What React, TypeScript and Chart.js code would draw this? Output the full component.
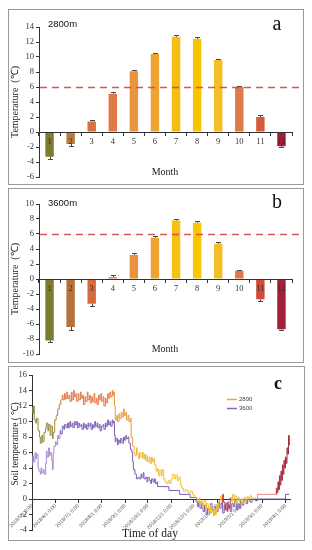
import React, { useEffect, useRef } from "react";
import { Chart, registerables } from "chart.js";

Chart.register(...registerables);

// ---------- data ----------
const MONTHS = ["1", "2", "3", "4", "5", "6", "7", "8", "9", "10", "11", "12"];

const TEMP_2800 = [-3.3, -1.6, 1.4, 5.1, 8.1, 10.4, 12.7, 12.4, 9.6, 6.0, 2.0, -1.9];
const ERR_2800 = [0.25, 0.3, 0.25, 0.3, 0.15, 0.15, 0.2, 0.3, 0.2, 0.1, 0.25, 0.15];

const TEMP_3600 = [-8.2, -6.4, -3.3, 0.25, 3.2, 5.5, 7.8, 7.5, 4.7, 1.1, -2.7, -6.7];
const ERR_3600 = [0.25, 0.35, 0.3, 0.3, 0.25, 0.2, 0.15, 0.25, 0.25, 0.15, 0.25, 0.1];

const THRESHOLD = 6;

const TICK_DAYS = [0, 31, 61, 92, 123, 153, 184, 214, 245, 276, 304, 335];
const TICK_LABELS = [
  "2018/5/1 0:00", "2018/6/1 0:00", "2018/7/1 0:00", "2018/8/1 0:00",
  "2018/9/1 0:00", "2018/10/1 0:00", "2018/11/1 0:00", "2018/12/1 0:00",
  "2019/1/1 0:00", "2019/2/1 0:00", "2019/3/1 0:00", "2019/4/1 0:00",
];

// [day since 2018/5/1, soil temperature]
const SOIL_2800: [number, number][] = [
  [0, 11.8], [1, 11.0], [2, 12.0], [3, 10.2], [5, 9.8], [6, 10.4], [8, 8.8], [10, 8.0], [11, 7.2], [13, 8.2],
  [14, 7.4], [16, 8.6], [18, 9.2], [19, 9.8], [21, 8.8], [22, 9.6], [24, 8.2], [25, 9.4], [27, 7.8], [28, 8.6],
  [30, 10.2], [32, 10.8], [34, 11.6], [36, 12.2], [38, 12.8], [40, 13.4], [41, 12.8], [43, 13.6], [44, 12.9], [46, 13.8],
  [47, 13.0], [49, 13.4], [50, 12.6], [52, 13.8], [53, 12.8], [55, 14.0], [56, 13.2], [58, 13.6], [59, 12.6], [61, 13.6],
  [62, 12.8], [64, 13.8], [65, 13.0], [67, 13.4], [68, 12.2], [70, 13.2], [71, 12.6], [73, 13.8], [74, 12.8], [76, 13.4],
  [77, 12.4], [79, 13.2], [80, 12.6], [82, 13.6], [83, 12.4], [85, 13.0], [86, 12.2], [88, 13.4], [89, 12.8], [91, 13.6],
  [92, 12.6], [94, 13.2], [95, 12.0], [97, 13.0], [98, 12.4], [100, 13.6], [101, 13.0], [103, 13.8], [104, 13.2], [106, 14.0],
  [107, 13.4], [108, 13.8], [109, 12.0], [110, 10.2], [112, 10.8], [113, 10.0], [115, 11.0], [116, 10.4], [118, 11.2], [119, 10.6],
  [121, 11.6], [122, 10.8], [124, 11.2], [125, 10.2], [127, 10.8], [128, 10.0], [130, 10.4], [131, 8.0], [133, 6.8], [135, 6.0],
  [136, 5.6], [138, 6.6], [139, 5.8], [141, 5.2], [142, 6.0], [144, 5.4], [146, 6.0], [147, 5.2], [149, 5.8], [150, 5.0],
  [152, 5.6], [153, 4.8], [155, 5.4], [156, 4.6], [158, 5.4], [159, 4.8], [161, 5.2], [162, 4.4], [164, 3.6], [166, 3.9],
  [167, 3.0], [169, 3.7], [171, 3.0], [172, 3.8], [174, 2.6], [176, 2.2], [178, 2.0], [180, 2.4], [182, 2.0], [184, 2.6],
  [186, 3.2], [188, 2.6], [190, 3.1], [192, 2.4], [194, 2.8], [196, 1.8], [198, 1.4], [200, 1.0], [203, 1.2], [206, 0.8],
  [209, 1.0], [212, 0.6], [214, 0.4], [216, 0.2], [218, 0.0], [219, -0.4], [221, 0.2], [222, -0.6], [224, -0.2], [225, -1.0],
  [227, -0.4], [228, -0.2], [230, -1.2], [231, -0.6], [233, -1.6], [235, -0.8], [236, -1.8], [238, -1.2], [240, -2.2], [241, -1.4],
  [243, -2.0], [244, -0.8], [246, -1.2], [247, -0.2], [249, 0.4], [250, -0.6], [252, 0.6], [253, -0.4], [255, -1.4], [256, -0.6],
  [258, -1.6], [259, -0.8], [261, -1.2], [262, 0.2], [264, -0.4], [265, 0.6], [267, -0.2], [268, 0.4], [270, -0.6], [272, 0.2],
  [274, -0.4], [276, 0.0], [278, -0.6], [280, 0.2], [282, -0.2], [284, 0.3], [286, 0.0], [288, 0.4], [290, 0.0], [292, 0.1],
  [297, 0.1], [298, 0.6], [322, 0.6], [323, 1.4], [324, 0.8], [325, 2.2], [326, 1.2], [327, 3.0], [328, 1.8], [329, 3.6],
  [330, 2.4], [331, 4.4], [332, 3.2], [333, 5.0], [334, 4.0], [335, 5.4], [336, 4.6], [337, 6.6], [338, 5.8], [339, 8.2],
  [340, 7.0], [341, 7.8],
];

const SOIL_3600: [number, number][] = [
  [0, 4.4], [1, 5.6], [2, 4.8], [4, 6.0], [5, 5.2], [6, 5.8], [8, 4.0], [9, 3.6], [11, 3.2], [12, 4.0],
  [13, 3.4], [15, 3.8], [16, 3.2], [18, 4.6], [19, 6.2], [20, 5.4], [22, 6.6], [23, 5.6], [24, 6.0], [26, 5.0],
  [27, 3.8], [28, 5.8], [29, 6.8], [31, 7.4], [32, 7.0], [34, 8.2], [35, 7.8], [37, 8.8], [38, 8.4], [40, 9.4],
  [42, 9.0], [43, 9.6], [45, 9.2], [47, 9.8], [48, 9.2], [50, 10.0], [51, 9.4], [53, 9.8], [54, 9.2], [56, 10.0],
  [57, 9.6], [59, 10.0], [60, 9.2], [62, 9.8], [63, 9.4], [65, 9.6], [66, 9.0], [68, 9.8], [69, 9.2], [71, 9.6],
  [72, 9.0], [74, 9.8], [75, 9.4], [77, 9.8], [78, 9.0], [80, 9.6], [81, 9.2], [83, 10.0], [84, 9.4], [86, 9.8],
  [87, 9.2], [89, 9.6], [90, 8.8], [92, 9.4], [94, 9.6], [95, 9.0], [97, 9.8], [98, 9.4], [100, 10.2], [101, 9.6],
  [103, 10.0], [104, 9.4], [106, 10.2], [107, 9.8], [108, 10.0], [109, 8.2], [110, 7.4], [111, 7.8], [113, 7.0], [114, 7.6],
  [116, 7.2], [117, 7.8], [119, 7.2], [121, 8.0], [122, 7.6], [124, 8.2], [125, 7.8], [127, 8.0], [128, 7.2], [130, 6.4],
  [132, 6.0], [133, 4.8], [134, 3.8], [136, 3.2], [138, 2.6], [140, 2.8], [142, 2.6], [144, 3.2], [145, 2.8], [147, 3.4],
  [148, 2.6], [150, 2.8], [152, 2.2], [153, 2.8], [155, 2.4], [157, 2.0], [158, 2.6], [160, 2.2], [162, 2.6], [163, 2.0],
  [165, 2.2], [166, 1.6], [181, 1.1], [195, 0.6], [209, 0.2], [215, 0.2], [217, -0.4], [219, -1.0], [220, -0.3], [222, -1.2],
  [224, -0.6], [226, -1.6], [228, -0.8], [230, -2.0], [232, -1.2], [234, -1.8], [236, -0.6], [238, -1.4], [240, -2.0], [242, -1.0],
  [244, -1.6], [246, -0.4], [248, -1.2], [250, -0.6], [252, -1.8], [254, -0.8], [256, -1.4], [258, -0.4], [260, -1.2], [262, -1.6],
  [264, -0.6], [266, -1.0], [268, -0.2], [270, -1.4], [272, -0.6], [274, -1.2], [276, -0.4], [278, -0.8], [280, -0.2], [283, -0.6],
  [285, -0.1], [288, -0.4], [291, 0.0], [295, -0.2], [298, 0.0], [334, 0.0], [335, 0.6], [340, 0.6],
];

// ---------- styles ----------
const SERIF = "'Liberation Serif', 'Times New Roman', serif";
const SANS = "'Liberation Sans', Arial, sans-serif";

const COLORS_2800 = ["#7E7A2E", "#B87B3A", "#D9703E", "#DE7A45", "#E8953F", "#EEA432",
  "#F6BE14", "#F8C400", "#F4BE28", "#DF7A45", "#D45A3C", "#A21E36"];
const COLORS_3600 = ["#7E7C2E", "#B5733A", "#D8693C", "#E08045", "#E8923F", "#EEA432",
  "#F7C012", "#F9C600", "#F4BE28", "#DF7A45", "#D3483A", "#A2213A"];

const SEG_2800: [number, string][] = [
  [28, "#8E8B3A"], [37, "#BB7E3E"], [108, "#E27A4C"], [132, "#EA9A42"], [168, "#F0B43A"],
  [250, "#F3C331"], [262, "#C23A44"], [297, "#F0BE3A"], [322, "#E98A7C"], [9999, "#A52A3C"],
];
function color2800(day: number) {
  for (const [lim, c] of SEG_2800) if (day < lim) return c;
  return "#A52A3C";
}
function color3600(day: number) {
  return day < 37 ? "#A48BD0" : "#7A5EB4";
}

type BarProps = {
  left: number; top: number; w: number; h: number;
  pad: [number, number, number];
  values: number[]; errors: number[]; colors: string[];
  yMin: number; yMax: number;
  tag: string; letter: string;
  tagPos: [number, number]; letterPos: [number, number];
  monthPos: [number, number]; yTitlePos: [number, number];
};

function BarPanel(p: BarProps) {
  const ref = useRef<HTMLCanvasElement | null>(null);
  useEffect(() => {
    const canvas = ref.current;
    if (!canvas) return;
    const overlay = {
      id: "overlay_" + p.letter,
      afterDatasetsDraw(chart: any) {
        const { ctx, chartArea, scales } = chart;
        const y = scales.y;
        ctx.save();
        // threshold
        ctx.strokeStyle = "rgba(212,70,70,0.9)";
        ctx.lineWidth = 1.4;
        ctx.setLineDash([7, 5]);
        const ty = Math.round(y.getPixelForValue(THRESHOLD)) + 0.5;
        ctx.beginPath();
        ctx.moveTo(chartArea.left + 1, ty);
        ctx.lineTo(chartArea.right + 8, ty);
        ctx.stroke();
        ctx.setLineDash([]);
        // error bars
        const meta = chart.getDatasetMeta(0);
        ctx.strokeStyle = "#4a4a4a";
        ctx.lineWidth = 1;
        meta.data.forEach((bar: any, i: number) => {
          const v = p.values[i];
          const e = p.errors[i];
          const end = v >= 0 ? v + e : v - e;
          const y0 = y.getPixelForValue(v);
          const y1 = Math.round(y.getPixelForValue(end)) + 0.5;
          const x = Math.round(bar.x) + 0.5;
          ctx.beginPath();
          ctx.moveTo(x, y0);
          ctx.lineTo(x, y1);
          ctx.moveTo(x - 2.5, y1);
          ctx.lineTo(x + 2.5, y1);
          ctx.stroke();
        });
        ctx.restore();
      },
      afterDraw(chart: any) {
        const { ctx } = chart;
        ctx.save();
        ctx.fillStyle = "#111";
        ctx.textBaseline = "middle";
        ctx.textAlign = "left";
        ctx.font = `9.5px ${SANS}`;
        ctx.fillText(p.tag, p.tagPos[0], p.tagPos[1]);
        ctx.textAlign = "center";
        ctx.font = `20px ${SERIF}`;
        ctx.fillText(p.letter, p.letterPos[0], p.letterPos[1]);
        ctx.font = `10px ${SERIF}`;
        ctx.fillStyle = "#222";
        ctx.fillText("Month", p.monthPos[0], p.monthPos[1]);
        ctx.translate(p.yTitlePos[0], p.yTitlePos[1]);
        ctx.rotate(-Math.PI / 2);
        ctx.fillText("Temperature  (℃)", 0, 0);
        ctx.restore();
      },
    };
    const chart = new Chart(canvas, {
      type: "bar",
      data: {
        labels: MONTHS,
        datasets: [{
          data: p.values,
          backgroundColor: p.colors,
          borderWidth: 0,
          barPercentage: 0.4,
          categoryPercentage: 1,
        }],
      },
      options: {
        responsive: false,
        animation: false,
        devicePixelRatio: 1,
        layout: { padding: { left: 0, top: p.pad[0], right: p.pad[1], bottom: p.pad[2] } },
        plugins: { legend: { display: false }, tooltip: { enabled: false } },
        scales: {
          x: {
            type: "category",
            position: { y: 0 } as any,
            offset: true,
            grid: { display: true, drawOnChartArea: false, drawTicks: true, tickLength: 3, offset: true, color: "#333", z: 1 },
            border: { display: true, color: "#333", width: 1, z: 1 },
            ticks: { font: { family: SERIF, size: 8.5 }, color: "#333", padding: 2, maxRotation: 0, autoSkip: false, z: 1 },
            afterFit: (s: any) => { s.paddingLeft = 0; s.paddingRight = 0; },
          },
          y: {
            min: p.yMin,
            max: p.yMax,
            ticks: { stepSize: 2, font: { family: SERIF, size: 8.5 }, color: "#333", padding: 2 },
            grid: { drawOnChartArea: false, drawTicks: true, tickLength: 3, color: "#333" },
            border: { display: true, color: "#333", width: 1 },
            afterFit: (s: any) => { s.width = 31; },
          },
        },
      } as any,
      plugins: [overlay],
    });
    return () => chart.destroy();
  }, []);
  return (
    <canvas
      ref={ref}
      width={p.w}
      height={p.h}
      style={{ position: "absolute", left: p.left, top: p.top, width: p.w, height: p.h }}
    />
  );
}

function LinePanel() {
  const ref = useRef<HTMLCanvasElement | null>(null);
  const L = 8, T = 366, W = 297, H = 175;
  useEffect(() => {
    const canvas = ref.current;
    if (!canvas) return;
    const overlay = {
      id: "overlay_c",
      afterDraw(chart: any) {
        const { ctx } = chart;
        ctx.save();
        // legend
        ctx.lineWidth = 1.5;
        ctx.strokeStyle = "#F0A640";
        ctx.beginPath(); ctx.moveTo(219, 33.5); ctx.lineTo(229, 33.5); ctx.stroke();
        ctx.strokeStyle = "#8468BC";
        ctx.beginPath(); ctx.moveTo(219, 42.5); ctx.lineTo(229, 42.5); ctx.stroke();
        ctx.fillStyle = "#444";
        ctx.font = `6px ${SANS}`;
        ctx.textAlign = "left";
        ctx.textBaseline = "middle";
        ctx.fillText("2800", 231, 33.5);
        ctx.fillText("3600", 231, 42.5);
        // letter
        ctx.fillStyle = "#111";
        ctx.textAlign = "center";
        ctx.font = `bold 18px ${SERIF}`;
        ctx.fillText("c", 270, 18);
        // x title
        ctx.font = `11.5px ${SERIF}`;
        ctx.fillStyle = "#222";
        ctx.fillText("Time of day", 142, 168);
        // y title
        ctx.font = `9.5px ${SERIF}`;
        ctx.translate(7, 78);
        ctx.rotate(-Math.PI / 2);
        ctx.fillText("Soil temperature ( ℃)", 0, 0);
        ctx.restore();
      },
    };
    const chart = new Chart(canvas, {
      type: "line",
      data: {
        datasets: [
          {
            label: "2800",
            data: SOIL_2800.map(([x, y]) => ({ x, y })),
            borderColor: "#F0A640",
            borderWidth: 1,
            pointRadius: 0,
            stepped: true,
            segment: { borderColor: (c: any) => color2800(c.p0.parsed.x) },
          },
          {
            label: "3600",
            data: SOIL_3600.map(([x, y]) => ({ x, y })),
            borderColor: "#7A5EB4",
            borderWidth: 1,
            pointRadius: 0,
            stepped: true,
            segment: { borderColor: (c: any) => color3600(c.p0.parsed.x) },
          },
        ],
      },
      options: {
        responsive: false,
        animation: false,
        devicePixelRatio: 1,
        layout: { padding: { left: 0, top: 9, right: 15, bottom: 11 } },
        plugins: { legend: { display: false }, tooltip: { enabled: false } },
        scales: {
          x: {
            type: "linear",
            position: { y: 0 } as any,
            min: 0,
            max: 341,
            afterBuildTicks: (s: any) => { s.ticks = TICK_DAYS.map((v) => ({ value: v })); },
            grid: { display: true, drawOnChartArea: false, drawTicks: true, tickLength: 3, color: "#333" },
            border: { display: true, color: "#333", width: 1 },
            ticks: {
              autoSkip: false,
              minRotation: 45,
              maxRotation: 45,
              font: { family: SANS, size: 5 },
              color: "#555",
              padding: 1,
              callback: (_v: any, i: number) => TICK_LABELS[i],
            },
            afterFit: (s: any) => { s.paddingLeft = 0; s.paddingRight = 0; },
          },
          y: {
            min: -4,
            max: 16,
            ticks: { stepSize: 2, font: { family: SERIF, size: 8.5 }, color: "#333", padding: 2 },
            grid: { drawOnChartArea: false, drawTicks: true, tickLength: 3, color: "#333" },
            border: { display: true, color: "#333", width: 1 },
            afterFit: (s: any) => { s.width = 24; },
          },
        },
      } as any,
      plugins: [overlay],
    });
    return () => chart.destroy();
  }, []);
  return (
    <canvas
      ref={ref}
      width={W}
      height={H}
      style={{ position: "absolute", left: L, top: T, width: W, height: H }}
    />
  );
}

const boxStyle = (left: number, top: number, w: number, h: number): React.CSSProperties => ({
  position: "absolute", left, top, width: w, height: h,
  border: "1px solid #9a9a9a", boxSizing: "border-box", background: "#fff",
});

export default function App() {
  return (
    <div style={{ position: "absolute", left: 0, top: 0, width: 312, height: 550, background: "#fff" }}>
      <div style={boxStyle(8, 9, 296, 176)} />
      <div style={boxStyle(8, 188, 296, 175)} />
      <div style={boxStyle(8, 366, 297, 175)} />
      <BarPanel
        left={8} top={9} w={296} h={176} pad={[18, 12, 8]}
        values={TEMP_2800} errors={ERR_2800} colors={COLORS_2800}
        yMin={-6} yMax={14}
        tag="2800m" letter="a"
        tagPos={[40, 15]} letterPos={[269, 16]} monthPos={[157, 163]} yTitlePos={[7, 93]}
      />
      <BarPanel
        left={8} top={188} w={296} h={175} pad={[16, 12, 9]}
        values={TEMP_3600} errors={ERR_3600} colors={COLORS_3600}
        yMin={-10} yMax={10}
        tag="3600m" letter="b"
        tagPos={[40, 15]} letterPos={[269, 15]} monthPos={[157, 161]} yTitlePos={[7, 91]}
      />
      <LinePanel />
    </div>
  );
}
